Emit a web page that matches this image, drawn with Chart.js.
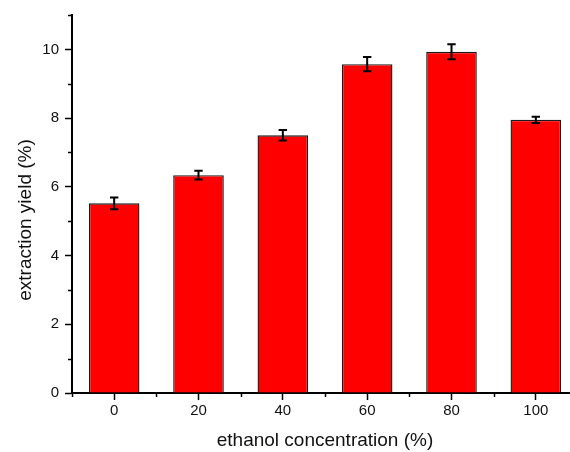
<!DOCTYPE html>
<html>
<head>
<meta charset="utf-8">
<script src="https://cdn.jsdelivr.net/npm/chart.js@4/dist/chart.umd.min.js"></script>
<style>
html,body{margin:0;padding:0;overflow:hidden;background:#ffffff;}
#wrap{position:relative;width:580px;height:452px;}
</style>
</head>
<body>
<div id="wrap"><canvas id="c"></canvas></div>
<script>
// ---- data ----
const concentrations = [0, 20, 40, 60, 80, 100];
const yieldValues = [5.52, 6.34, 7.50, 9.57, 9.93, 7.95];
const yieldErrors = [0.17, 0.13, 0.15, 0.21, 0.22, 0.09];
const xTickValues = [0, 20, 40, 60, 80, 100];
const xMinorTickValues = [-10, 10, 30, 50, 70, 90, 110];
const yTickValues = [0, 2, 4, 6, 8, 10];
const yMinorTickValues = [1, 3, 5, 7, 9, 11];
const xTitle = 'ethanol concentration (%)';
const yTitle = 'extraction yield (%)';

const FONT = '"Liberation Sans", Arial, sans-serif';
const INK = '#111111';

const errorBars = {
  id: 'errorBars',
  afterDatasetsDraw(chart) {
    const {ctx, scales: {x, y}} = chart;
    ctx.save();
    ctx.strokeStyle = '#000';
    ctx.lineWidth = 2;
    for (let i = 0; i < concentrations.length; i++) {
      const px = x.getPixelForValue(concentrations[i]);
      const top = y.getPixelForValue(yieldValues[i] + yieldErrors[i]);
      const bot = y.getPixelForValue(yieldValues[i] - yieldErrors[i]);
      ctx.beginPath();
      ctx.moveTo(px, top); ctx.lineTo(px, bot);
      ctx.moveTo(px - 4.2, top); ctx.lineTo(px + 4.2, top);
      ctx.moveTo(px - 4.2, bot); ctx.lineTo(px + 4.2, bot);
      ctx.stroke();
    }
    ctx.restore();
  }
};

const minorTicksAndTitle = {
  id: 'minorTicks',
  afterDraw(chart) {
    const {ctx, scales: {x, y}, chartArea} = chart;
    ctx.save();
    ctx.strokeStyle = '#000';
    ctx.lineWidth = 1.5;
    ctx.beginPath();
    yMinorTickValues.forEach(v => {
      const py = Math.round(y.getPixelForValue(v)) + 0.5;
      ctx.moveTo(chartArea.left - 4, py); ctx.lineTo(chartArea.left, py);
    });
    xMinorTickValues.forEach(v => {
      const px = Math.round(x.getPixelForValue(v)) + 0.5;
      ctx.moveTo(px, chartArea.bottom); ctx.lineTo(px, chartArea.bottom + 4);
    });
    ctx.stroke();
    // y axis title
    ctx.fillStyle = INK;
    ctx.font = '19px ' + FONT;
    ctx.textAlign = 'center';
    ctx.textBaseline = 'middle';
    ctx.translate(25.5, 220);
    ctx.rotate(-Math.PI / 2);
    ctx.fillText(yTitle, 0, 0);
    ctx.restore();
  }
};

new Chart(document.getElementById('c'), {
  type: 'bar',
  data: {
    datasets: [{
      data: concentrations.map((c, i) => ({x: c, y: yieldValues[i]})),
      backgroundColor: '#ff0000',
      borderColor: '#1a1a1a',
      borderWidth: 1.4,
      barPercentage: 0.6,
      categoryPercentage: 1.0
    }]
  },
  options: {
    responsive: true,
    maintainAspectRatio: false,
    animation: false,
    layout: {padding: {top: 14, right: 2, left: 0, bottom: 0}},
    plugins: {legend: {display: false}, tooltip: {enabled: false}},
    scales: {
      x: {
        type: 'linear',
        min: -10,
        max: 110,
        offset: false,
        afterBuildTicks: s => { s.ticks = xTickValues.map(v => ({value: v})); },
        afterFit: s => { s.height = 59; },
        grid: {display: true, offset: false, drawOnChartArea: false, drawTicks: true, tickLength: 7, tickColor: '#000', tickWidth: 1.5},
        border: {display: true, color: '#000', width: 2},
        ticks: {color: INK, font: {family: FONT, size: 15}, padding: 2, maxRotation: 0},
        title: {display: true, text: xTitle, color: INK, font: {family: FONT, size: 19}, padding: {top: 0, bottom: 0}}
      },
      y: {
        type: 'linear',
        min: 0,
        max: 11,
        afterBuildTicks: s => { s.ticks = yTickValues.map(v => ({value: v})); },
        afterFit: s => { s.width = 72; },
        grid: {display: true, drawOnChartArea: false, drawTicks: true, tickLength: 7, tickColor: '#000', tickWidth: 1.5},
        border: {display: true, color: '#000', width: 2},
        ticks: {color: INK, font: {family: FONT, size: 15}, padding: 6}
      }
    }
  },
  plugins: [errorBars, minorTicksAndTitle]
});
</script>
</body>
</html>
